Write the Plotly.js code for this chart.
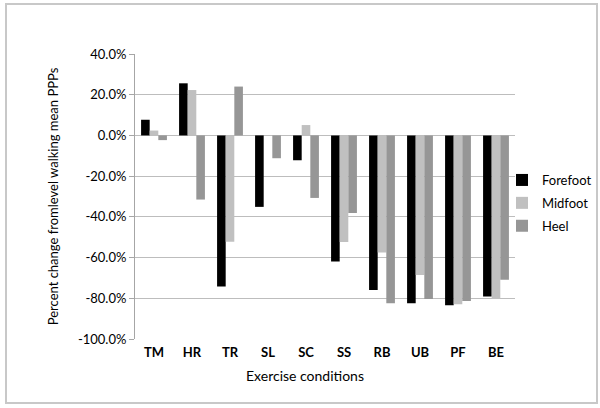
<!DOCTYPE html>
<html>
<head>
<meta charset="utf-8">
<script src="https://cdn.plot.ly/plotly-3.0.1.min.js"></script>
<style>
html,body{margin:0;padding:0;background:#fff;}
#chart{width:600px;height:408px;}
</style>
</head>
<body>
<div id="chart"></div>
<script>
const categories = ["TM","HR","TR","SL","SC","SS","RB","UB","PF","BE"];
const forefoot = [0.077, 0.256, -0.742, -0.351, -0.122, -0.619, -0.759, -0.824, -0.834, -0.791];
const midfoot  = [0.024, 0.223, -0.522, 0.0, 0.051, -0.524, -0.575, -0.685, -0.829, -0.803];
const heel     = [-0.023, -0.315, 0.240, -0.112, -0.307, -0.381, -0.824, -0.803, -0.813, -0.709];
const yTicks = [0.4,0.2,0,-0.2,-0.4,-0.6,-0.8,-1.0];
const yTickText = ["40.0%","20.0%","0.0%","-20.0%","-40.0%","-60.0%","-80.0%","-100.0%"];

const font = "Lato, 'Open Sans', sans-serif";
const traces = [
  {name:"Forefoot", y:forefoot, color:"#000000"},
  {name:"Midfoot", y:midfoot, color:"#c0c0c0"},
  {name:"Heel", y:heel, color:"#969696"}
].map(s => ({type:"bar", x:categories, y:s.y, name:s.name, legendgroup:s.name,
             marker:{color:s.color, line:{width:0}}}));

const layout = {
  width:600, height:408,
  margin:{l:135, r:85, t:54, b:69, autoexpand:false},
  paper_bgcolor:"#fff", plot_bgcolor:"#fff",
  barmode:"group", bargap:0.32, bargroupgap:0,
  font:{family:font, size:12, color:"#000"},
  xaxis:{
    type:"category", showgrid:false, zeroline:false,
    showline:false, ticks:"", showticklabels:true,
    tickfont:{family:font, size:13, color:"#000", weight:"bold"},
    ticklabelstandoff:4
  },
  yaxis:{
    range:[-1.0,0.4], tickvals:yTicks, ticktext:yTickText,
    showgrid:true, gridcolor:"#bdbdbd", gridwidth:1,
    zeroline:true, zerolinecolor:"#bdbdbd", zerolinewidth:1,
    showline:true, linecolor:"#a6a6a6", linewidth:1,
    ticks:"outside", ticklen:5, tickcolor:"#a6a6a6",
    tickfont:{family:font, size:13, color:"#000"},
    title:{text:"Percent change fromlevel walking mean PPPs", font:{family:font, size:13, color:"#000"}, standoff:16}
  },
  legend:{
    x:(502-135)/380, xanchor:"left", y:(339-203)/285, yanchor:"middle",
    font:{family:font, size:13, color:"#000"},
    traceorder:"grouped", itemwidth:30, tracegroupgap:3, bgcolor:"rgba(0,0,0,0)"
  },
  annotations:[{
    text:"Exercise conditions", xref:"paper", yref:"paper",
    x:0.447, y:0, yshift:-36, xanchor:"center", yanchor:"middle",
    showarrow:false, font:{family:font, size:14, color:"#000"}
  }],
  shapes:[{
    type:"rect", xref:"paper", yref:"paper",
    x0:-129/380, x1:(597-135)/380, y0:-(403-339)/285, y1:(339-4)/285,
    line:{color:"#c8c8c8", width:2}, fillcolor:"rgba(0,0,0,0)", layer:"below"
  }],
  showlegend:true
};

Plotly.newPlot("chart", traces, layout, {displayModeBar:false, staticPlot:true});
</script>
</body>
</html>
